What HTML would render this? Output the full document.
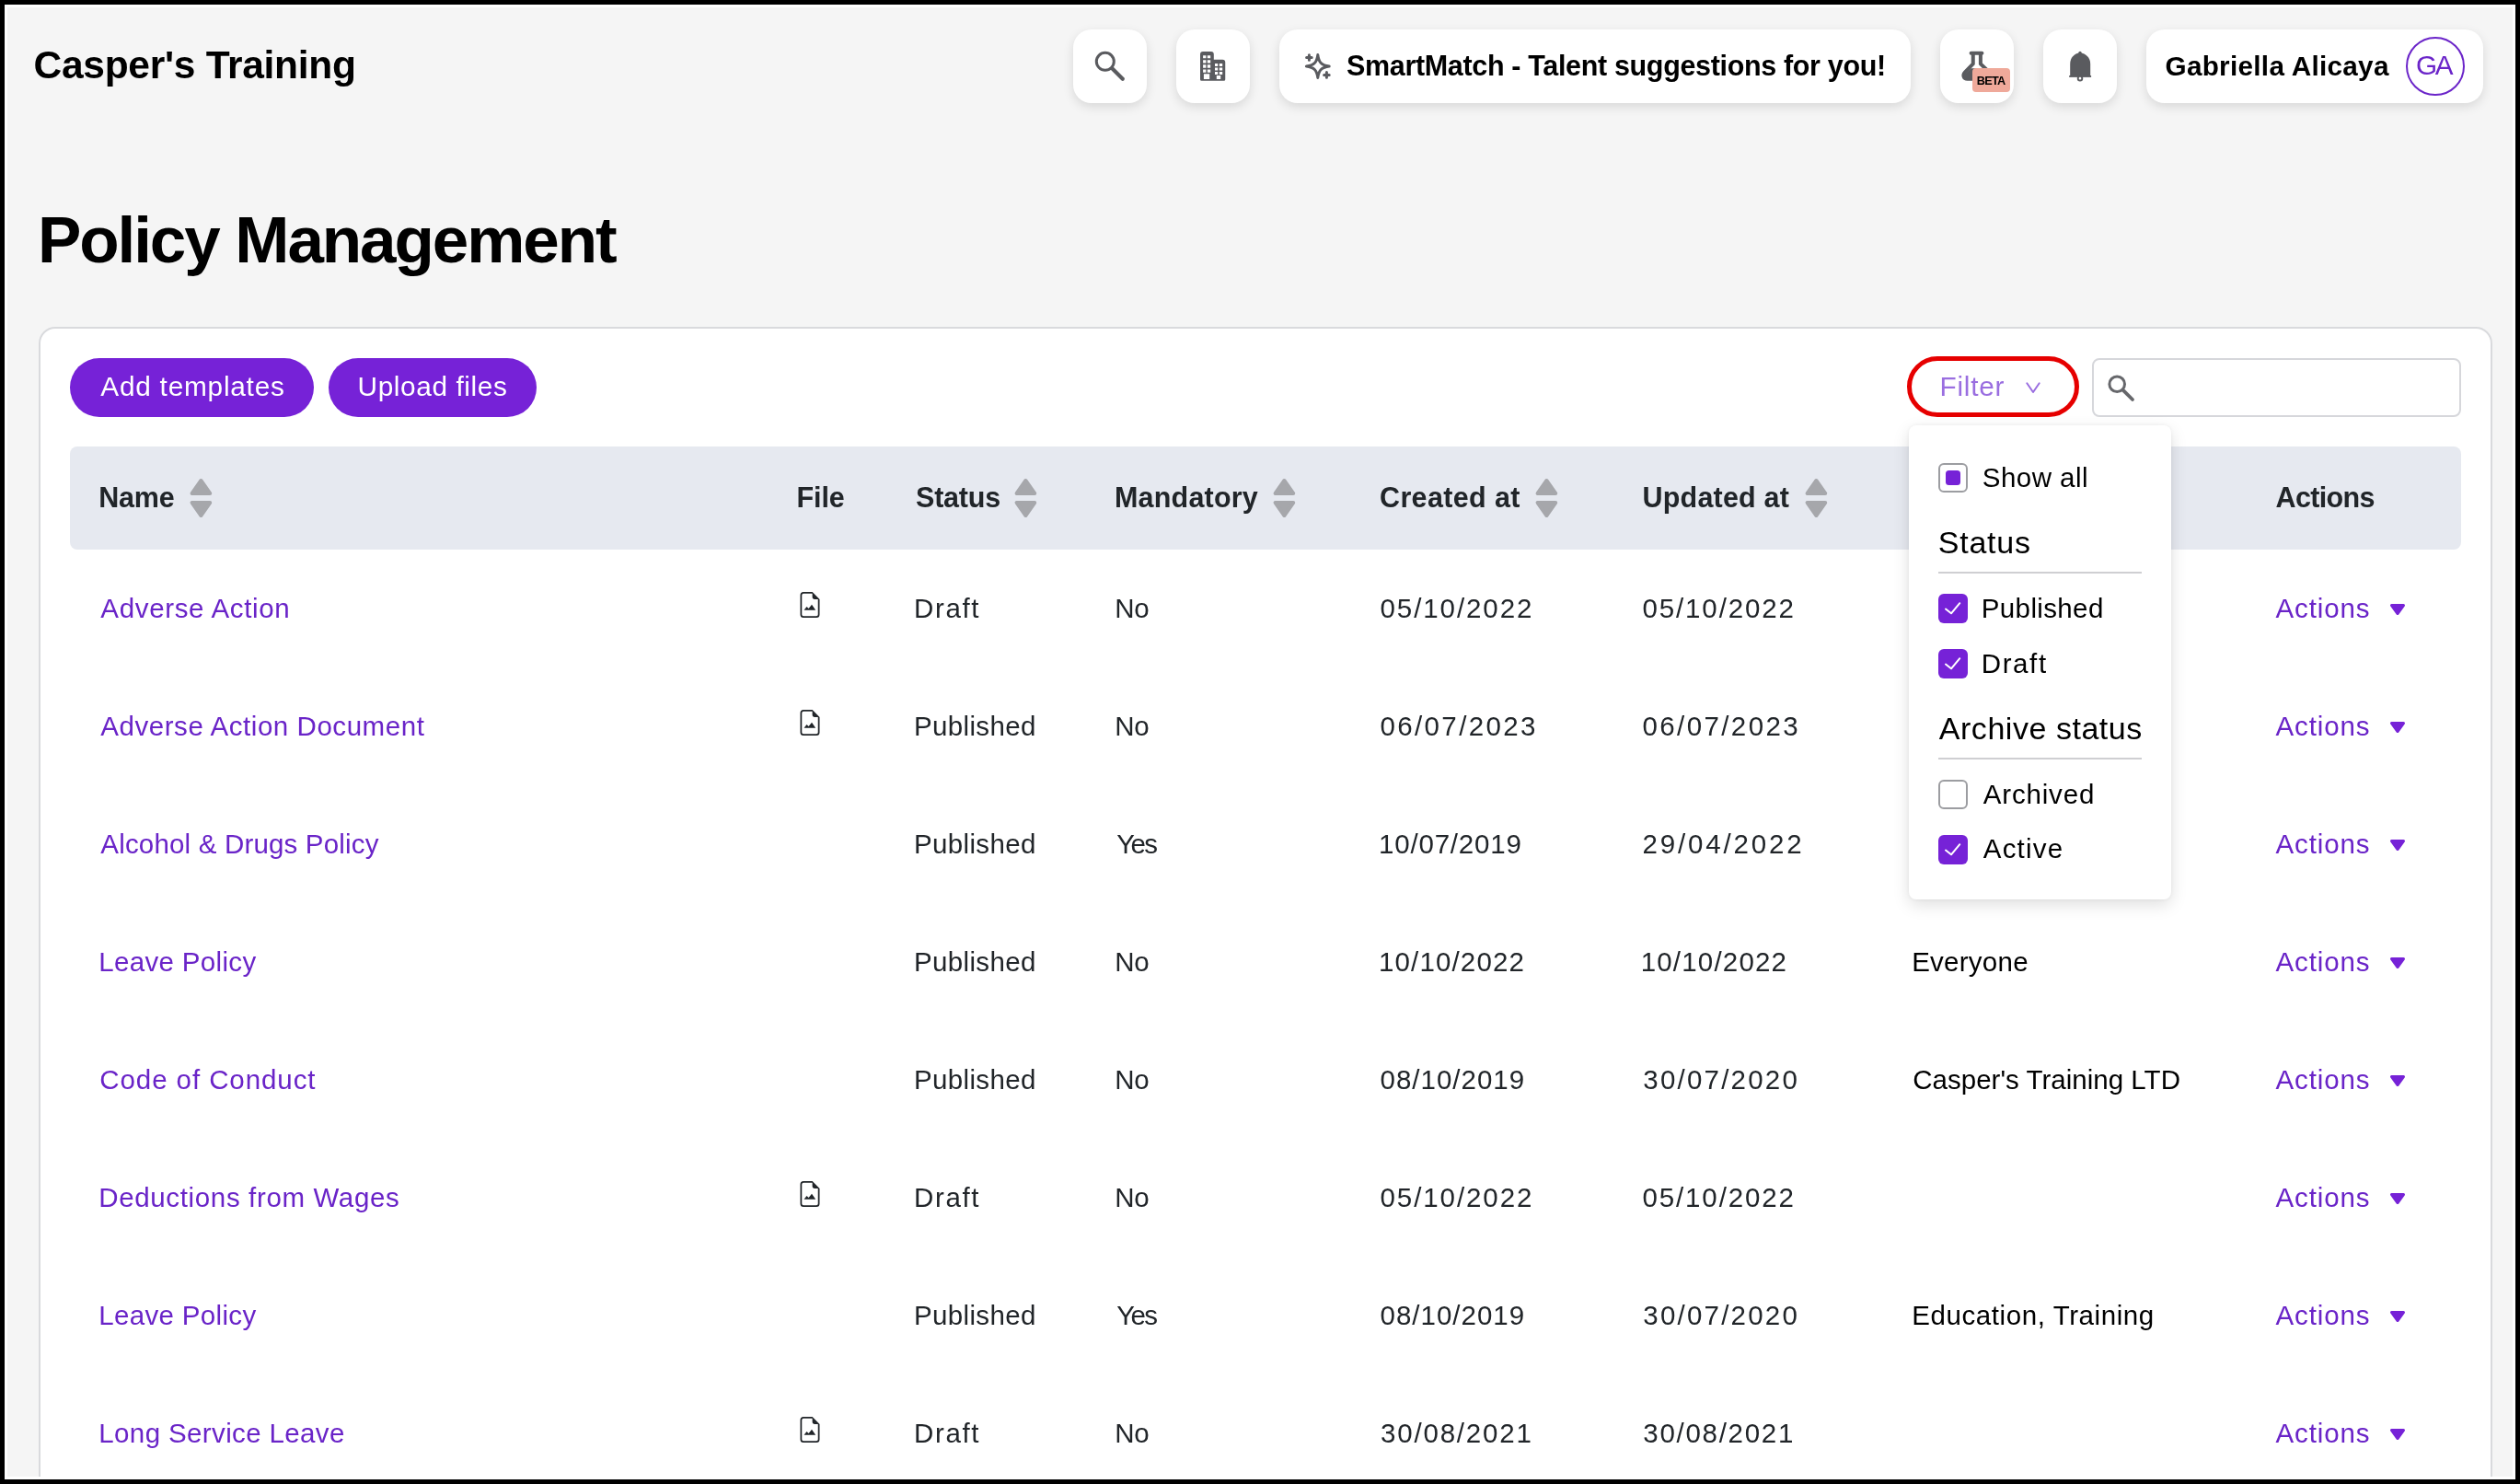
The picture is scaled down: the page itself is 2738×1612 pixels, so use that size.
<!DOCTYPE html>
<html><head><meta charset="utf-8"><title>Policy Management</title>
<style>
*{box-sizing:border-box;margin:0;padding:0}
html,body{width:2738px;height:1612px;overflow:hidden;background:#000}
body{font-family:"Liberation Sans",sans-serif;position:relative}
#white{position:absolute;left:5px;top:5px;width:2728px;height:1602px;background:#fff}
#clip{position:absolute;left:8px;top:8px;width:2722px;height:1596px;background:#f5f5f5;overflow:hidden}
#page{position:absolute;left:-8px;top:-8px;width:2738px;height:1612px;will-change:transform}
.t{position:absolute;white-space:nowrap;line-height:1}
.ab,.fi{position:absolute;overflow:visible}
.hb{position:absolute;top:32px;height:80px;background:#fff;border-radius:20px;box-shadow:0 4px 12px rgba(0,0,0,.12)}
#card{position:absolute;left:42px;top:355px;width:2666px;height:1400px;background:#fff;border:2px solid #d9dadd;border-radius:18px}
.pb{position:absolute;top:389px;height:64px;border-radius:32px;background:#7622d7}
#thead{position:absolute;left:76px;top:485px;width:2598px;height:112px;background:#e6e9f0;border-radius:8px}
#filter{position:absolute;left:2072px;top:387px;width:187px;height:66px;border:5px solid #e60000;border-radius:33px}
#search{position:absolute;left:2273px;top:389px;width:401px;height:64px;border:2px solid #d6d7db;border-radius:8px;background:#fff}
#dd{position:absolute;left:2074px;top:462px;width:285px;height:515px;background:#fff;border-radius:8px;box-shadow:0 6px 18px rgba(0,0,0,.13),0 0 4px rgba(0,0,0,.05)}
.cb{position:absolute;left:2106px;width:32px;height:32px;border-radius:6px}
.cb.on{background:#7622d7}
.cb.off{background:#fff;border:2px solid #9c9da1}
.hr{position:absolute;left:2106px;width:221px;height:2px;background:#cfcfd2}
#avatar{position:absolute;left:2614px;top:40px;width:64px;height:64px;border-radius:50%;border:2px solid #6b25c9}
#beta{position:absolute;left:2143px;top:74px;width:41px;height:26px;border-radius:4px;background:#efa99a}
</style></head>
<body>
<svg width="0" height="0" style="position:absolute">
<defs>
<g id="sort" fill="#a6a7ab" stroke="#a6a7ab" stroke-width="4" stroke-linejoin="round">
<path d="M13.400 3L3.600 17H23.200Z"/><path d="M3.600 27H23.200L13.400 41Z"/></g>
<g id="caret" fill="#7622d7" stroke="#7622d7" stroke-width="3" stroke-linejoin="round"><path d="M2.5 2.5H15.5L9 11.5Z"/></g>
<g id="fileimg" fill="#212529">
<path fill-rule="evenodd" d="M14 4.5V14a2 2 0 0 1-2 2H4a2 2 0 0 1-2-2V2a2 2 0 0 1 2-2h5.5L14 4.5zM3 2v12a1 1 0 0 0 1 1h8a1 1 0 0 0 1-1V4.5h-2A1.5 1.5 0 0 1 9.5 3V1H4a1 1 0 0 0-1 1z"/>
<path d="M4.3 11.3L6 9.1 7.2 10.3 9.15 7.9 11.55 11.3Z"/></g>
<g id="chk" fill="none" stroke="#fff" stroke-width="2" stroke-linecap="round" stroke-linejoin="round"><path d="M8 16.5L14 21.300 23.300 10.200"/></g>
</defs></svg>
<div id="white"></div>
<div id="clip"><div id="page">

<!-- header buttons -->
<div class="hb" style="left:1166px;width:80px"></div>
<div class="hb" style="left:1278px;width:80px"></div>
<div class="hb" style="left:1390px;width:686px"></div>
<div class="hb" style="left:2108px;width:80px"></div>
<div class="hb" style="left:2220px;width:80px"></div>
<div class="hb" style="left:2332px;width:366px"></div>

<!-- search icon -->
<svg class="ab" style="left:1186px;top:52px" width="40" height="40" viewBox="0 0 40 40" fill="none" stroke="#5a5b5f">
<circle cx="14.8" cy="14.8" r="9.5" stroke-width="3"/><path d="M22.3 22.3L33.8 33.8" stroke-width="4.2" stroke-linecap="round"/></svg>

<!-- building icon -->
<svg class="ab" style="left:1304px;top:56px" width="28" height="32" viewBox="0 0 28 32">
<path fill="#5a5b5f" fill-rule="evenodd" d="M0 3a3 3 0 0 1 3-3h8.8a3 3 0 0 1 3 3v5.75h9.45a3 3 0 0 1 3 3V30.3a1.5 1.5 0 0 1-1.5 1.5H1.5A1.5 1.5 0 0 1 0 30.3Z
M3.1 4.2h3.3v3.1H3.1zM7.8 4.2h3.4v3.1H7.8zM3.1 9.2h3.3v3.3H3.1zM7.8 9.2h3.4v3.3H7.8zM3.1 14.3h3.3v3.4H3.1zM7.8 14.3h3.4v3.4H7.8zM3.1 19.6h3.3v3.1H3.1zM7.8 19.6h3.4v3.1H7.8zM3.9 24.2h6.3v5.8H3.9z
M16 12.9h3.2v3.1H16zM20.8 12.9h3.4v3.1h-3.4zM16 17.5h3.2v3.1H16zM20.8 17.5h3.4v3.1h-3.4zM16 22h3.2v3H16zM20.8 22h3.4v3h-3.4zM17.8 26h4.45v4H17.8z"/></svg>

<!-- sparkle icon -->
<svg class="ab" style="left:1416px;top:56px" width="32" height="32" viewBox="0 0 32 32" fill="none" stroke="#5a5b5f" stroke-width="3" stroke-linejoin="round" stroke-linecap="round">
<g transform="translate(15.8 16)"><path d="M0 -12.4C1.1 -4.1 4.1 -1.1 12.4 0 4.1 1.1 1.1 4.1 0 12.4 -1.1 4.1 -4.1 1.1 -12.4 0 -4.1 -1.1 -1.1 -4.1 0 -12.4Z"/></g>
<path d="M6.4 3.7v5.600M3.600 6.500h5.600M25.400 22.600v5.600M22.600 25.400h5.600"/></svg>

<!-- flask + beta -->
<svg class="ab" style="left:2128px;top:54px" width="40" height="36" viewBox="0 0 40 36">
<path d="M13.6 3.8h11.8" stroke="#5a5b5f" stroke-width="4" stroke-linecap="round" fill="none"/>
<path d="M15.75 4v11.4L7 24.300C3.900 27.600 5.600 31.800 9.600 31.800h21c4 0 5.700-4.200 2.600-7.500L23.900 15.400V4" fill="none" stroke="#5a5b5f" stroke-width="4" stroke-linejoin="round"/>
<path d="M13.500 20.200L7 26.300c-2.300 2.400-1.300 5.200 2 5.200h22c3.300 0 4.300-2.800 2-5.200L26 20.200Z" fill="#5a5b5f"/></svg>
<div id="beta"></div>

<!-- bell -->
<svg class="ab" style="left:2246px;top:54px" width="28" height="36" viewBox="0 0 28 36">
<circle cx="14" cy="3.500" r="1.700" fill="#5a5b5f"/>
<path fill="#5a5b5f" d="M3.200 28V15.500C3.200 8.800 7.600 4.100 14 3.300 20.400 4.100 25.200 8.800 25.200 15.500V28Z"/>
<path fill="#5a5b5f" d="M2.200 28h23.900v1.900H2.200z"/>
<circle cx="14" cy="31.200" r="2.300" fill="#fff" stroke="#5a5b5f" stroke-width="1.900"/>
</svg>

<div id="avatar"></div>

<!-- card -->
<div id="card"></div>
<div class="pb" style="left:76px;width:265px"></div>
<div class="pb" style="left:357px;width:226px"></div>
<div id="filter"></div>
<svg class="ab" style="left:2199px;top:413px" width="20" height="16" viewBox="0 0 20 16" fill="none" stroke="#9a6ee0" stroke-width="2" stroke-linecap="round" stroke-linejoin="round"><path d="M3.300 3.300L10 13 16.700 3.300"/></svg>
<div id="search"></div>
<svg class="ab" style="left:2288px;top:405px" width="34" height="34" viewBox="0 0 34 34" fill="none" stroke="#66676b">
<circle cx="12.200" cy="12.200" r="8.300" stroke-width="3"/><path d="M18.800 18.800L29 29" stroke-width="3.800" stroke-linecap="round"/></svg>

<div id="thead"></div>
<svg class="ab" style="left:205.1px;top:519px" width="26" height="44" viewBox="0 0 26 44"><use href="#sort"/></svg>
<svg class="ab" style="left:1101.4px;top:519px" width="26" height="44" viewBox="0 0 26 44"><use href="#sort"/></svg>
<svg class="ab" style="left:1382.4px;top:519px" width="26" height="44" viewBox="0 0 26 44"><use href="#sort"/></svg>
<svg class="ab" style="left:1667.4px;top:519px" width="26" height="44" viewBox="0 0 26 44"><use href="#sort"/></svg>
<svg class="ab" style="left:1960.4px;top:519px" width="26" height="44" viewBox="0 0 26 44"><use href="#sort"/></svg>
<svg class="fi" style="left:866px;top:643.0px" width="28" height="28" viewBox="0 0 16 16"><use href="#fileimg"/></svg>
<svg class="fi" style="left:866px;top:771.0px" width="28" height="28" viewBox="0 0 16 16"><use href="#fileimg"/></svg>
<svg class="fi" style="left:866px;top:1283.0px" width="28" height="28" viewBox="0 0 16 16"><use href="#fileimg"/></svg>
<svg class="fi" style="left:866px;top:1539.0px" width="28" height="28" viewBox="0 0 16 16"><use href="#fileimg"/></svg>
<svg class="ab" style="left:2595.8px;top:654.6px" width="18" height="14" viewBox="0 0 18 14"><use href="#caret"/></svg>
<svg class="ab" style="left:2595.8px;top:782.6px" width="18" height="14" viewBox="0 0 18 14"><use href="#caret"/></svg>
<svg class="ab" style="left:2595.8px;top:910.6px" width="18" height="14" viewBox="0 0 18 14"><use href="#caret"/></svg>
<svg class="ab" style="left:2595.8px;top:1038.6px" width="18" height="14" viewBox="0 0 18 14"><use href="#caret"/></svg>
<svg class="ab" style="left:2595.8px;top:1166.6px" width="18" height="14" viewBox="0 0 18 14"><use href="#caret"/></svg>
<svg class="ab" style="left:2595.8px;top:1294.6px" width="18" height="14" viewBox="0 0 18 14"><use href="#caret"/></svg>
<svg class="ab" style="left:2595.8px;top:1422.6px" width="18" height="14" viewBox="0 0 18 14"><use href="#caret"/></svg>
<svg class="ab" style="left:2595.8px;top:1550.6px" width="18" height="14" viewBox="0 0 18 14"><use href="#caret"/></svg>
<div class="t" style="left:36.50px;top:50.02px;font-size:42.5px;font-weight:700;color:#000;letter-spacing:-0.280px">Casper's Training</div>
<div class="t" style="left:41.00px;top:224.88px;font-size:71px;font-weight:700;color:#000;letter-spacing:-2.076px">Policy Management</div>
<div class="t" style="left:1463.00px;top:56.18px;font-size:30.5px;font-weight:700;color:#000;letter-spacing:-0.338px">SmartMatch - Talent suggestions for you!</div>
<div class="t" style="left:2352.50px;top:56.55px;font-size:29.7px;font-weight:700;color:#000;letter-spacing:0.295px">Gabriella Alicaya</div>
<div class="t" style="left:2625.00px;top:56.45px;font-size:29.7px;font-weight:400;color:#6b25c9;letter-spacing:-2.292px">GA</div>
<div class="t" style="left:2147.70px;top:82.05px;font-size:12.7px;font-weight:700;color:#000;letter-spacing:-0.711px">BETA</div>
<div class="t" style="left:109.25px;top:405.27px;font-size:29.8px;font-weight:400;color:#fff;letter-spacing:0.764px">Add templates</div>
<div class="t" style="left:388.50px;top:405.27px;font-size:29.8px;font-weight:400;color:#fff;letter-spacing:0.610px">Upload files</div>
<div class="t" style="left:2107.50px;top:405.27px;font-size:29.8px;font-weight:400;color:#9a6ee0;letter-spacing:0.742px">Filter</div>
<div class="t" style="left:107.25px;top:525.18px;font-size:30.5px;font-weight:700;color:#212529;letter-spacing:-0.203px">Name</div>
<div class="t" style="left:865.50px;top:525.18px;font-size:30.5px;font-weight:700;color:#212529;letter-spacing:-0.109px">File</div>
<div class="t" style="left:995.00px;top:525.18px;font-size:30.5px;font-weight:700;color:#212529;letter-spacing:-0.200px">Status</div>
<div class="t" style="left:1211.00px;top:525.18px;font-size:30.5px;font-weight:700;color:#212529;letter-spacing:0.188px">Mandatory</div>
<div class="t" style="left:1499.00px;top:525.18px;font-size:30.5px;font-weight:700;color:#212529;letter-spacing:0.360px">Created at</div>
<div class="t" style="left:1784.50px;top:525.18px;font-size:30.5px;font-weight:700;color:#212529;letter-spacing:0.201px">Updated at</div>
<div class="t" style="left:2472.50px;top:525.18px;font-size:30.5px;font-weight:700;color:#212529;letter-spacing:-0.630px">Actions</div>
<div class="t" style="left:109.30px;top:646.02px;font-size:29.5px;font-weight:400;color:#6a24c8;letter-spacing:0.669px">Adverse Action</div>
<div class="t" style="left:993.00px;top:646.02px;font-size:29.5px;font-weight:400;color:#212529;letter-spacing:1.642px">Draft</div>
<div class="t" style="left:1211.30px;top:646.02px;font-size:29.5px;font-weight:400;color:#212529;letter-spacing:-0.304px">No</div>
<div class="t" style="left:1499.50px;top:646.02px;font-size:29.5px;font-weight:400;color:#212529;letter-spacing:1.918px">05/10/2022</div>
<div class="t" style="left:1784.50px;top:646.02px;font-size:29.5px;font-weight:400;color:#212529;letter-spacing:1.862px">05/10/2022</div>
<div class="t" style="left:2472.50px;top:646.02px;font-size:29.5px;font-weight:400;color:#6a24c8;letter-spacing:0.885px">Actions</div>
<div class="t" style="left:109.30px;top:774.02px;font-size:29.5px;font-weight:400;color:#6a24c8;letter-spacing:0.552px">Adverse Action Document</div>
<div class="t" style="left:993.00px;top:774.02px;font-size:29.5px;font-weight:400;color:#212529;letter-spacing:0.355px">Published</div>
<div class="t" style="left:1211.30px;top:774.02px;font-size:29.5px;font-weight:400;color:#212529;letter-spacing:-0.304px">No</div>
<div class="t" style="left:1499.50px;top:774.02px;font-size:29.5px;font-weight:400;color:#212529;letter-spacing:2.362px">06/07/2023</div>
<div class="t" style="left:1784.50px;top:774.02px;font-size:29.5px;font-weight:400;color:#212529;letter-spacing:2.390px">06/07/2023</div>
<div class="t" style="left:2472.50px;top:774.02px;font-size:29.5px;font-weight:400;color:#6a24c8;letter-spacing:0.885px">Actions</div>
<div class="t" style="left:109.30px;top:902.02px;font-size:29.5px;font-weight:400;color:#6a24c8;letter-spacing:0.179px">Alcohol &amp; Drugs Policy</div>
<div class="t" style="left:993.00px;top:902.02px;font-size:29.5px;font-weight:400;color:#212529;letter-spacing:0.355px">Published</div>
<div class="t" style="left:1213.30px;top:902.02px;font-size:29.5px;font-weight:400;color:#212529;letter-spacing:-1.687px">Yes</div>
<div class="t" style="left:1498.00px;top:902.02px;font-size:29.5px;font-weight:400;color:#212529;letter-spacing:0.807px">10/07/2019</div>
<div class="t" style="left:1784.50px;top:902.02px;font-size:29.5px;font-weight:400;color:#212529;letter-spacing:2.835px">29/04/2022</div>
<div class="t" style="left:2472.50px;top:902.02px;font-size:29.5px;font-weight:400;color:#6a24c8;letter-spacing:0.885px">Actions</div>
<div class="t" style="left:107.30px;top:1030.02px;font-size:29.5px;font-weight:400;color:#6a24c8;letter-spacing:0.326px">Leave Policy</div>
<div class="t" style="left:993.00px;top:1030.02px;font-size:29.5px;font-weight:400;color:#212529;letter-spacing:0.355px">Published</div>
<div class="t" style="left:1211.30px;top:1030.02px;font-size:29.5px;font-weight:400;color:#212529;letter-spacing:-0.304px">No</div>
<div class="t" style="left:1498.00px;top:1030.02px;font-size:29.5px;font-weight:400;color:#212529;letter-spacing:1.140px">10/10/2022</div>
<div class="t" style="left:1782.70px;top:1030.02px;font-size:29.5px;font-weight:400;color:#212529;letter-spacing:1.185px">10/10/2022</div>
<div class="t" style="left:2077.20px;top:1030.02px;font-size:29.5px;font-weight:400;color:#000;letter-spacing:0.254px">Everyone</div>
<div class="t" style="left:2472.50px;top:1030.02px;font-size:29.5px;font-weight:400;color:#6a24c8;letter-spacing:0.885px">Actions</div>
<div class="t" style="left:108.30px;top:1158.02px;font-size:29.5px;font-weight:400;color:#6a24c8;letter-spacing:0.914px">Code of Conduct</div>
<div class="t" style="left:993.00px;top:1158.02px;font-size:29.5px;font-weight:400;color:#212529;letter-spacing:0.355px">Published</div>
<div class="t" style="left:1211.30px;top:1158.02px;font-size:29.5px;font-weight:400;color:#212529;letter-spacing:-0.304px">No</div>
<div class="t" style="left:1499.50px;top:1158.02px;font-size:29.5px;font-weight:400;color:#212529;letter-spacing:1.001px">08/10/2019</div>
<div class="t" style="left:1785.25px;top:1158.02px;font-size:29.5px;font-weight:400;color:#212529;letter-spacing:2.224px">30/07/2020</div>
<div class="t" style="left:2078.20px;top:1158.02px;font-size:29.5px;font-weight:400;color:#000;letter-spacing:0.020px">Casper's Training LTD</div>
<div class="t" style="left:2472.50px;top:1158.02px;font-size:29.5px;font-weight:400;color:#6a24c8;letter-spacing:0.885px">Actions</div>
<div class="t" style="left:107.30px;top:1286.02px;font-size:29.5px;font-weight:400;color:#6a24c8;letter-spacing:0.638px">Deductions from Wages</div>
<div class="t" style="left:993.00px;top:1286.02px;font-size:29.5px;font-weight:400;color:#212529;letter-spacing:1.642px">Draft</div>
<div class="t" style="left:1211.30px;top:1286.02px;font-size:29.5px;font-weight:400;color:#212529;letter-spacing:-0.304px">No</div>
<div class="t" style="left:1499.50px;top:1286.02px;font-size:29.5px;font-weight:400;color:#212529;letter-spacing:1.918px">05/10/2022</div>
<div class="t" style="left:1784.50px;top:1286.02px;font-size:29.5px;font-weight:400;color:#212529;letter-spacing:1.862px">05/10/2022</div>
<div class="t" style="left:2472.50px;top:1286.02px;font-size:29.5px;font-weight:400;color:#6a24c8;letter-spacing:0.885px">Actions</div>
<div class="t" style="left:107.30px;top:1414.02px;font-size:29.5px;font-weight:400;color:#6a24c8;letter-spacing:0.326px">Leave Policy</div>
<div class="t" style="left:993.00px;top:1414.02px;font-size:29.5px;font-weight:400;color:#212529;letter-spacing:0.355px">Published</div>
<div class="t" style="left:1213.30px;top:1414.02px;font-size:29.5px;font-weight:400;color:#212529;letter-spacing:-1.687px">Yes</div>
<div class="t" style="left:1499.50px;top:1414.02px;font-size:29.5px;font-weight:400;color:#212529;letter-spacing:1.001px">08/10/2019</div>
<div class="t" style="left:1785.25px;top:1414.02px;font-size:29.5px;font-weight:400;color:#212529;letter-spacing:2.224px">30/07/2020</div>
<div class="t" style="left:2077.20px;top:1414.02px;font-size:29.5px;font-weight:400;color:#000;letter-spacing:0.585px">Education, Training</div>
<div class="t" style="left:2472.50px;top:1414.02px;font-size:29.5px;font-weight:400;color:#6a24c8;letter-spacing:0.885px">Actions</div>
<div class="t" style="left:107.30px;top:1542.02px;font-size:29.5px;font-weight:400;color:#6a24c8;letter-spacing:0.373px">Long Service Leave</div>
<div class="t" style="left:993.00px;top:1542.02px;font-size:29.5px;font-weight:400;color:#212529;letter-spacing:1.642px">Draft</div>
<div class="t" style="left:1211.30px;top:1542.02px;font-size:29.5px;font-weight:400;color:#212529;letter-spacing:-0.304px">No</div>
<div class="t" style="left:1500.00px;top:1542.02px;font-size:29.5px;font-weight:400;color:#212529;letter-spacing:1.807px">30/08/2021</div>
<div class="t" style="left:1785.25px;top:1542.02px;font-size:29.5px;font-weight:400;color:#212529;letter-spacing:1.724px">30/08/2021</div>
<div class="t" style="left:2472.50px;top:1542.02px;font-size:29.5px;font-weight:400;color:#6a24c8;letter-spacing:0.885px">Actions</div>

<!-- dropdown -->
<div id="dd"></div>
<div class="cb off" style="top:503px"></div>
<div class="ab" style="left:2114px;top:511px;width:16px;height:16px;border-radius:3.500px;background:#7622d7"></div>
<div class="hr" style="top:621px"></div>
<div class="cb on" style="top:645px"></div><svg class="ab" style="left:2106px;top:645px" width="32" height="32"><use href="#chk"/></svg>
<div class="cb on" style="top:705px"></div><svg class="ab" style="left:2106px;top:705px" width="32" height="32"><use href="#chk"/></svg>
<div class="hr" style="top:823px"></div>
<div class="cb off" style="top:847px"></div>
<div class="cb on" style="top:907px"></div><svg class="ab" style="left:2106px;top:907px" width="32" height="32"><use href="#chk"/></svg>
<div class="t" style="left:2153.80px;top:503.62px;font-size:29.5px;font-weight:400;color:#000;letter-spacing:0.450px">Show all</div>
<div class="t" style="left:2105.80px;top:572.31px;font-size:34px;font-weight:400;color:#000;letter-spacing:0.762px">Status</div>
<div class="t" style="left:2152.80px;top:646.32px;font-size:29.5px;font-weight:400;color:#000;letter-spacing:0.367px">Published</div>
<div class="t" style="left:2152.80px;top:705.62px;font-size:29.5px;font-weight:400;color:#000;letter-spacing:1.592px">Draft</div>
<div class="t" style="left:2106.80px;top:773.81px;font-size:34px;font-weight:400;color:#000;letter-spacing:0.536px">Archive status</div>
<div class="t" style="left:2154.80px;top:847.62px;font-size:29.5px;font-weight:400;color:#000;letter-spacing:0.819px">Archived</div>
<div class="t" style="left:2154.80px;top:907.32px;font-size:29.5px;font-weight:400;color:#000;letter-spacing:1.195px">Active</div>

</div></div>
</body></html>
